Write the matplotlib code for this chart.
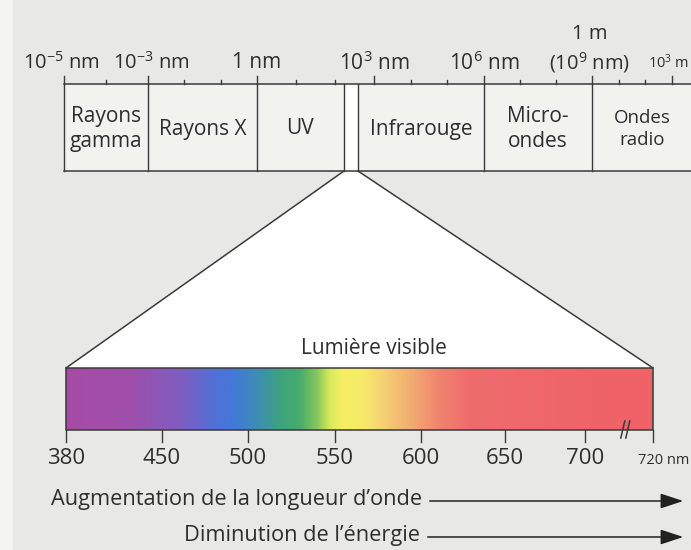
import numpy as np
import matplotlib
matplotlib.use("Agg")
import matplotlib.pyplot as plt
from matplotlib.patches import Rectangle, Polygon, FancyArrowPatch
from matplotlib.colors import to_rgb

FONT = "Open Sans"
plt.rcParams['font.family'] = [FONT, 'DejaVu Sans']
plt.rcParams['mathtext.fontset'] = 'custom'
plt.rcParams['mathtext.rm'] = FONT
plt.rcParams['mathtext.it'] = FONT + ':italic'
plt.rcParams['mathtext.bf'] = FONT + ':bold'

# ---------------- data ----------------
# top electromagnetic scale: exponent of wavelength in nm
scale_exp = [-5, -3, 0, 3, 6, 9, 12]
scale_labels = [r'10$^{-5}$ nm', r'10$^{-3}$ nm', '1 nm', r'10$^{3}$ nm',
                r'10$^{6}$ nm', '1 m\n' + r'(10$^{9}$ nm)', r'10$^{3}$ m']
minor_exp = [-4, -2, -1, 1, 2, 4, 5, 7, 8, 10, 11]
# domain boundaries (exponent of nm)
domain_edges = [-5, -3, 0, 2.23, 2.59, 6, 9, 13]
domain_names = ['Rayons\ngamma', 'Rayons X', 'UV', '', 'Infrarouge',
                'Micro-\nondes', 'Ondes\nradio']
# visible spectrum
vis_ticks = [380, 450, 500, 550, 600, 650, 700, 720]
vis_tick_labels = ['380', '450', '500', '550', '600', '650', '700', '720 nm']
color_nm = [380, 427, 462, 480, 492, 507, 519, 530, 540, 547, 555, 567, 578, 594, 611, 629, 720]
color_hex = ['#a64ba6', '#a04fac', '#7e5dc0', '#5270d6', '#4279d6', '#3d8fb0', '#3ea27e',
             '#47ac6c', '#86c75e', '#d6e85c', '#f6ef64', '#f7ea6a', '#f6d274', '#f2ae72',
             '#f0846f', '#ef6c6d', '#ee6268']
arrow_texts = ['Augmentation de la longueur d\u2019onde', 'Diminution de l\u2019\u00e9nergie']

# ---------------- scales (pixel mapping of the drawing) ----------------
exp_anchor = [-5, -3, 0, 3, 6, 9, 12, 13]
exp_px = [64, 148, 257, 374, 484, 592, 672, 700]
def xs_top(e):
    return np.interp(e, exp_anchor, exp_px)

nm_anchor = [380, 450, 500, 550, 600, 650, 700, 720]
nm_px = [66, 162, 248, 335, 421, 505, 585, 653]
def xs_vis(v):
    return np.interp(v, nm_anchor, nm_px)

W, H = 691, 550
fig = plt.figure(figsize=(W / 100, H / 100), dpi=100)
fig.patch.set_facecolor('#e8e8e6')
ax = fig.add_axes([0, 0, 1, 1])
ax.set_xlim(0, W)
ax.set_ylim(H, 0)
ax.axis('off')
ax.set_facecolor('#e8e8e6')

LC = '#3a3a3a'
TC = '#2e2e2e'
# left light page margin
ax.add_patch(Rectangle((0, 0), 13, H, facecolor='#f3f3f3', edgecolor='none', zorder=0))

# ---------------- top bar ----------------
y_top, y_bot = 84, 171
x0 = xs_top(domain_edges[0])
ax.add_patch(Rectangle((x0, y_top), W - x0 + 5, y_bot - y_top,
                       facecolor='#f2f2ee', edgecolor='none', zorder=1))
ax.plot([x0, W + 5], [y_top, y_top], color=LC, lw=1.1, zorder=3)
ax.plot([x0, W + 5], [y_bot, y_bot], color=LC, lw=1.1, zorder=3)
for e in domain_edges[:-1]:
    x = xs_top(e)
    ax.plot([x, x], [y_top, y_bot], color=LC, lw=1.0, zorder=3)

# visible band white
xv0, xv1 = xs_top(domain_edges[3]), xs_top(domain_edges[4])
ax.add_patch(Rectangle((xv0, y_top), xv1 - xv0, y_bot - y_top,
                       facecolor='white', edgecolor='none', zorder=2))

for i, name in enumerate(domain_names):
    if not name:
        continue
    xa = xs_top(domain_edges[i])
    xb_ = min(xs_top(domain_edges[i + 1]), W)
    xc = (xa + xb_) / 2
    if 'radio' in name:
        ax.text(xc + 1, 129, name, ha='center', va='center', fontsize=13.5, color=TC,
                linespacing=1.25, zorder=4)
    else:
        ax.text(xc, 129, name, ha='center', va='center', fontsize=15, color=TC,
                linespacing=1.2, zorder=4)

# ticks
for e in scale_exp:
    x = xs_top(e)
    ax.plot([x, x], [y_top, 76], color=LC, lw=1.0, zorder=3)
for e in minor_exp:
    x = xs_top(e)
    ax.plot([x, x], [y_top, 80], color=LC, lw=1.0, zorder=3)

for e, lab in zip(scale_exp, scale_labels):
    x = xs_top(e)
    if '\n' in lab:
        l1, l2 = lab.split('\n')
        ax.text(x - 2, 63, l2, ha='center', va='center', fontsize=14.5, color=TC, zorder=4)
        ax.text(x - 2, 34, l1, ha='center', va='center', fontsize=14.5, color=TC, zorder=4)
    elif e == 12:
        ax.text(x - 3, 63, lab, ha='center', va='center', fontsize=10.5, color=TC, zorder=4)
    elif e == -5:
        ax.text(x - 3, 63, lab, ha='center', va='center', fontsize=14.5, color=TC, zorder=4)
    elif e == -3:
        ax.text(x + 3, 63, lab, ha='center', va='center', fontsize=14.5, color=TC, zorder=4)
    else:
        ax.text(x, 63, lab, ha='center', va='center', fontsize=15, color=TC, zorder=4)

# ---------------- trapezoid ----------------
b_top, b_bot = 368, 430
xl, xr = xs_vis(vis_ticks[0]), xs_vis(vis_ticks[-1])
ax.add_patch(Polygon([(xv0, y_bot), (xv1, y_bot), (xr, b_top), (xl, b_top)],
                     closed=True, facecolor='white', edgecolor='none', zorder=1))
ax.plot([xv0, xl], [y_bot, b_top], color=LC, lw=1.1, zorder=3)
ax.plot([xv1, xr], [y_bot, b_top], color=LC, lw=1.1, zorder=3)
ax.text(374, 349, 'Lumi\u00e8re visible', ha='center', va='center',
        fontsize=15, color=TC, zorder=4)

# ---------------- spectrum bar ----------------
px = np.arange(int(xl), int(xr) + 1) + 0.5
nm_of_px = np.interp(px, nm_px, nm_anchor)
rgb = np.array([to_rgb(c) for c in color_hex])
cols = np.stack([np.interp(nm_of_px, color_nm, rgb[:, k]) for k in range(3)], axis=1)
img = np.repeat(cols[None, :, :], 2, axis=0)
ax.imshow(img, extent=(xl, xr, b_bot, b_top), aspect='auto', interpolation='bilinear', zorder=2)
ax.add_patch(Rectangle((xl, b_top), xr - xl, b_bot - b_top, facecolor='none',
                       edgecolor=LC, lw=1.1, zorder=3))
for v, lab in zip(vis_ticks, vis_tick_labels):
    x = xs_vis(v)
    ax.plot([x, x], [b_bot, 442], color=LC, lw=1.0, zorder=3)
    if lab.endswith('nm'):
        ax.text(W - 2, 460, lab, ha='right', va='center', fontsize=10.5, color=TC, zorder=4)
    else:
        ax.text(x, 459, lab, ha='center', va='center', fontsize=16, color=TC, zorder=4)
# break marks
xb = xs_vis(712)
for dx in (-3, 2):
    ax.plot([xb + dx + 2, xb + dx - 2], [421, 438], color=LC, lw=1.1, zorder=5)

# ---------------- arrows ----------------
for y, txt, xt in [(500, arrow_texts[0], 422), (536, arrow_texts[1], 420)]:
    ax.text(xt, y, txt, ha='right', va='center', fontsize=15.7, color=TC, zorder=4)
    ar = FancyArrowPatch((xt + 5, y + 1), (686, y + 1), arrowstyle='-|>,head_length=1.0,head_width=0.33',
                         mutation_scale=14, color='#222222', lw=1.1, zorder=4)
    ax.add_patch(ar)

fig.savefig('out.png', dpi=100, facecolor=fig.get_facecolor())
